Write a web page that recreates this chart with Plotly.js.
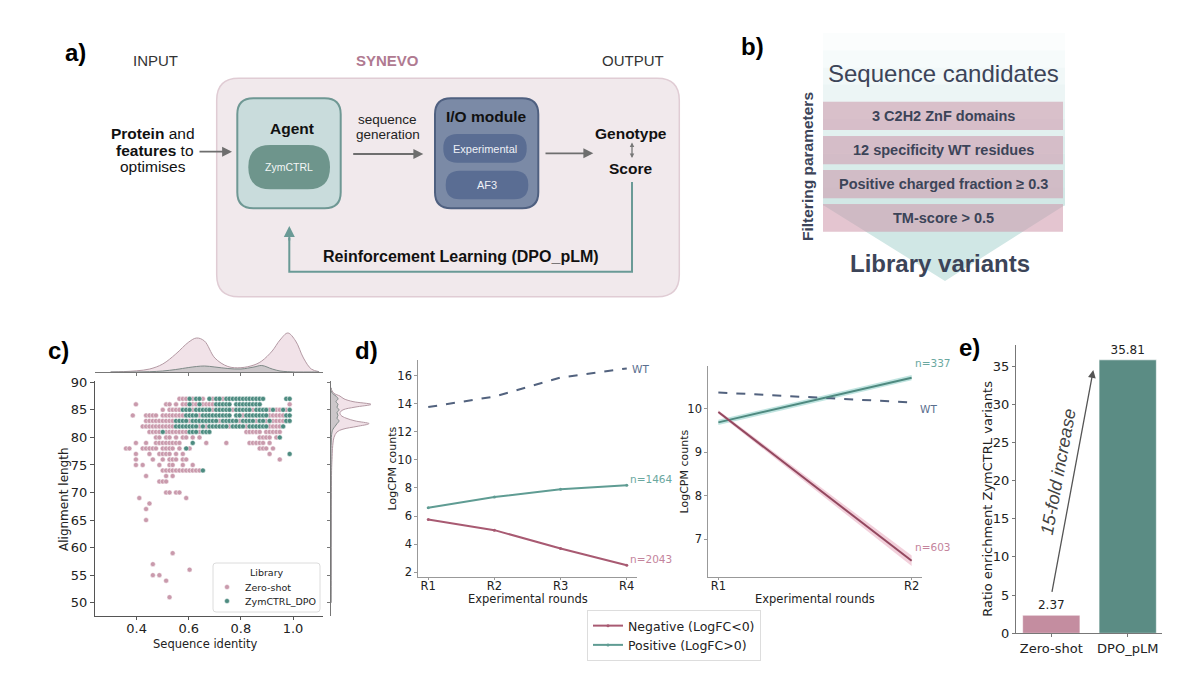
<!DOCTYPE html>
<html><head><meta charset="utf-8">
<script src="https://cdn.plot.ly/plotly-3.0.1.min.js"></script>
<style>html,body{margin:0;padding:0;background:#fff}#chart{width:1200px;height:677px}</style>
</head><body><div id="chart"></div>
<script>
// ---------------- DATA ----------------
// Panel c: scatter rows (alignment length -> list of sequence identities)
const zeroShotAlign = [87,86,85,84,83,82,81,80,79,78,77,76,75,74,73,72,70,69,68,67,65,59,57,56,55,54,51];
const zeroShotIdentity = [
  [0.564,0.577,0.590,0.615,0.654,0.692,0.731],
  [0.397,0.513,0.526,0.551,0.577,0.590,0.615,0.628,0.654,0.667,0.679,0.692,0.987],
  [0.500,0.526,0.538,0.551,0.564,0.615,0.692,0.769,0.846,0.910,0.936,0.949,0.974],
  [0.385,0.436,0.449,0.462,0.474,0.500,0.513,0.526,0.538,0.551,0.564,0.577,0.641,0.808,0.910,0.923,0.936,0.949,0.962],
  [0.436,0.449,0.462,0.474,0.487,0.500,0.513,0.526,0.538,0.603,0.718,0.795,0.859,0.897,0.923,0.936,0.949,0.962],
  [0.423,0.436,0.449,0.462,0.474,0.487,0.500,0.513,0.526,0.538,0.641,0.667,0.756,0.821,0.910,0.923,0.936,0.949],
  [0.449,0.462,0.474,0.487,0.513,0.526,0.538,0.551,0.564,0.577,0.590,0.641,0.821,0.833,0.846,0.859,0.872,0.897,0.910,0.923,0.936,0.949],
  [0.474,0.487,0.513,0.526,0.551,0.577,0.590,0.615,0.641,0.872,0.885,0.897,0.910,0.936],
  [0.397,0.436,0.474,0.487,0.500,0.513,0.526,0.538,0.551,0.564,0.667,0.744,0.833,0.846,0.859,0.872,0.885,0.910],
  [0.359,0.372,0.423,0.436,0.449,0.462,0.474,0.500,0.513,0.526,0.538,0.564,0.603,0.872,0.885,0.897,0.923],
  [0.397,0.449,0.487,0.500,0.513,0.526,0.551,0.577,0.910],
  [0.397,0.462,0.500,0.526,0.538,0.551,0.577,0.590,0.949],
  [0.397,0.423,0.487,0.526,0.538,0.577,0.615],
  [0.500,0.513,0.526,0.538,0.551,0.564,0.577,0.590,0.603,0.615,0.628,0.641],
  [0.436,0.513,0.538],
  [0.487,0.500,0.513],
  [0.513,0.526,0.551,0.564],
  [0.410,0.590],
  [0.449],
  [0.436],
  [0.436],
  [0.538],
  [0.462],
  [0.603],
  [0.462,0.487],
  [0.513],
  [0.526]
];
const dpoAlign = [87,86,85,84,83,82,81,80,79,78,77,74];
const dpoIdentity = [
  [0.603,0.628,0.641,0.679,0.705,0.718,0.744,0.756,0.769,0.782,0.795,0.808,0.821,0.833,0.846,0.859,0.872,0.885,0.974,0.987],
  [0.603,0.641,0.705,0.718,0.731,0.744,0.756,0.782,0.795,0.808,0.821,0.833,0.846,0.859,0.872],
  [0.577,0.590,0.603,0.628,0.641,0.654,0.667,0.679,0.705,0.718,0.731,0.744,0.756,0.782,0.795,0.808,0.821,0.833,0.859,0.872,0.885,0.897,0.923,0.962,0.987],
  [0.590,0.603,0.615,0.628,0.654,0.667,0.679,0.692,0.705,0.718,0.731,0.744,0.756,0.782,0.795,0.821,0.833,0.846,0.859,0.872,0.885,0.897,0.974,0.987],
  [0.551,0.564,0.577,0.590,0.615,0.628,0.641,0.654,0.667,0.679,0.692,0.705,0.731,0.744,0.756,0.769,0.782,0.808,0.821,0.833,0.846,0.872,0.885,0.910,0.974,0.987],
  [0.551,0.564,0.577,0.590,0.603,0.615,0.628,0.654,0.679,0.692,0.705,0.718,0.731,0.744,0.769,0.782,0.795,0.808,0.833,0.846,0.859,0.872,0.885,0.897,0.962],
  [0.500,0.603,0.615,0.628,0.654,0.667,0.679],
  [0.949],
  [0.615],
  [0.590],
  [0.987],
  [0.654]
];
const libraryNames = ['Zero-shot','ZymCTRL_DPO'];
// Panel c marginal densities
const kdeTopX        = [0.30,0.35,0.40,0.45,0.50,0.55,0.60,0.63,0.66,0.70,0.75,0.80,0.85,0.88,0.92,0.95,0.98,1.01,1.04,1.07,1.10];
const kdeTopZeroShot = [0,0.4,1.2,3,8,18,30,34,31,14,5.5,4.3,7,11,21,32,39,31,14,3,0.3];
const kdeTopDpo      = [0,0,0,0.3,1,2.5,4.5,5.5,6,5,3.5,3,5,6.5,3,1,0.3,0,0,0,0];
const kdeRightY        = [89,88.5,88,87.5,87,86.5,86,85.5,85,84.5,84,83.5,83,82.5,82,81.5,81,80,79,78,76,74,70,65,60,55,50];
const kdeRightZeroShot = [0,1,3,9,13,22,40,24,12,9,10,15,24,38,26,12,6,3,2,1.5,1,0.6,0.4,0.3,0.2,0.2,0];
const kdeRightDpo      = [0,0,1.5,5,7,5,7,6,8,6,7,6,8,6,4,2,1,0.4,0.2,0,0,0,0,0,0,0,0];
// Panel d
const roundsLeft  = ['R1','R2','R3','R4'];
const wtLeft      = [13.75,14.5,15.85,16.5];
const positiveLeft= [6.6,7.35,7.9,8.2];
const negativeLeft= [5.75,5.0,3.7,2.5];
const roundsRight   = ['R1','R2'];
const wtRight       = [10.38,10.15];
const positiveRight = [9.69,10.72];
const positiveRightCI = [0.06,0.06];
const negativeRight = [9.93,6.5];
const negativeRightCI = [0.04,0.12];
// Panel e
const enrichLabels = ['Zero-shot','DPO_pLM'];
const enrichValues = [2.37,35.81];

// ---------------- HELPERS ----------------
const W=1200,H=677;
const PX=v=>v/W, PY=v=>1-v/H;
const dX=(a,b)=>[PX(a),PX(b)], dY=(top,bot)=>[PY(bot),PY(top)];
const f=v=>v.toFixed(5);
function rr(x0,y0,x1,y1,r){
  const X=v=>f(PX(v)),Y=v=>f(PY(v));
  return `M${X(x0+r)},${Y(y0)} L${X(x1-r)},${Y(y0)} Q${X(x1)},${Y(y0)} ${X(x1)},${Y(y0+r)} L${X(x1)},${Y(y1-r)} Q${X(x1)},${Y(y1)} ${X(x1-r)},${Y(y1)} L${X(x0+r)},${Y(y1)} Q${X(x0)},${Y(y1)} ${X(x0)},${Y(y1-r)} L${X(x0)},${Y(y0+r)} Q${X(x0)},${Y(y0)} ${X(x0+r)},${Y(y0)} Z`;
}
function poly(pts){return 'M'+pts.map(p=>f(PX(p[0]))+','+f(PY(p[1]))).join(' L')+' Z';}
function pathPx(cmds){return cmds.map(c=>c[0]+f(PX(c[1]))+','+f(PY(c[2]))).join(' ');}
function flatten(rowsY, rowsX){const x=[],y=[];rowsY.forEach((yy,i)=>rowsX[i].forEach(xx=>{x.push(xx);y.push(yy);}));return {x,y};}

const SANS='Liberation Sans, Arial, sans-serif';
const DJ='DejaVu Sans, sans-serif';
const pinkDot='#c99aac', greenDot='#4d8b80';
const negCol='#a85a72', posCol='#5f9c93', wtCol='#52627e';

const zs=flatten(zeroShotAlign,zeroShotIdentity);
const dp=flatten(dpoAlign,dpoIdentity);

// ---------------- TRACES ----------------
const traces=[
 {type:'scatter',mode:'markers',x:zs.x,y:zs.y,name:libraryNames[0],xaxis:'x',yaxis:'y',showlegend:false,
  marker:{size:5,color:pinkDot,line:{width:0.5,color:'#ffffff'}}},
 {type:'scatter',mode:'markers',x:dp.x,y:dp.y,name:libraryNames[1],xaxis:'x',yaxis:'y',showlegend:false,
  marker:{size:5,color:greenDot,line:{width:0.5,color:'#ffffff'}}},
 {type:'scatter',mode:'lines',x:kdeTopX,y:kdeTopZeroShot,xaxis:'x2',yaxis:'y2',showlegend:false,
  line:{shape:'spline',color:'#b49aa4',width:1},fill:'tozeroy',fillcolor:'rgba(215,172,190,0.35)'},
 {type:'scatter',mode:'lines',x:kdeTopX,y:kdeTopDpo,xaxis:'x2',yaxis:'y2',showlegend:false,
  line:{shape:'spline',color:'#7f8a88',width:1},fill:'tozeroy',fillcolor:'rgba(120,135,132,0.3)'},
 {type:'scatter',mode:'lines',x:kdeRightZeroShot,y:kdeRightY,xaxis:'x3',yaxis:'y3',showlegend:false,
  line:{shape:'spline',color:'#b49aa4',width:1},fill:'tozerox',fillcolor:'rgba(215,172,190,0.35)'},
 {type:'scatter',mode:'lines',x:kdeRightDpo,y:kdeRightY,xaxis:'x3',yaxis:'y3',showlegend:false,
  line:{shape:'spline',color:'#7f8a88',width:1},fill:'tozerox',fillcolor:'rgba(120,135,132,0.3)'},
 // panel d left
 {type:'scatter',mode:'lines',x:roundsLeft,y:wtLeft,xaxis:'x4',yaxis:'y4',showlegend:false,
  line:{color:wtCol,width:2,dash:'dash'}},
 {type:'scatter',mode:'lines+markers',x:roundsLeft,y:negativeLeft,xaxis:'x4',yaxis:'y4',name:'Negative (LogFC<0)',legend:'legend2',legendrank:1,
  line:{color:negCol,width:2},marker:{size:3,color:negCol}},
 {type:'scatter',mode:'lines+markers',x:roundsLeft,y:positiveLeft,xaxis:'x4',yaxis:'y4',name:'Positive (LogFC>0)',legend:'legend2',legendrank:2,
  line:{color:posCol,width:2},marker:{size:3,color:posCol}},
 // panel d right: confidence bands
 {type:'scatter',mode:'lines',x:roundsRight,y:positiveRight.map((v,i)=>v-positiveRightCI[i]),xaxis:'x5',yaxis:'y5',showlegend:false,line:{width:0,color:'rgba(0,0,0,0)'}},
 {type:'scatter',mode:'lines',x:roundsRight,y:positiveRight.map((v,i)=>v+positiveRightCI[i]),xaxis:'x5',yaxis:'y5',showlegend:false,line:{width:0,color:'rgba(0,0,0,0)'},fill:'tonexty',fillcolor:'rgba(140,205,198,0.55)'},
 {type:'scatter',mode:'lines',x:roundsRight,y:negativeRight.map((v,i)=>v-negativeRightCI[i]),xaxis:'x5',yaxis:'y5',showlegend:false,line:{width:0,color:'rgba(0,0,0,0)'}},
 {type:'scatter',mode:'lines',x:roundsRight,y:negativeRight.map((v,i)=>v+negativeRightCI[i]),xaxis:'x5',yaxis:'y5',showlegend:false,line:{width:0,color:'rgba(0,0,0,0)'},fill:'tonexty',fillcolor:'rgba(232,170,190,0.55)'},
 {type:'scatter',mode:'lines',x:roundsRight,y:wtRight,xaxis:'x5',yaxis:'y5',showlegend:false,line:{color:wtCol,width:2,dash:'dash'}},
 {type:'scatter',mode:'lines',x:roundsRight,y:positiveRight,xaxis:'x5',yaxis:'y5',showlegend:false,line:{color:'#4f8a80',width:2}},
 {type:'scatter',mode:'lines',x:roundsRight,y:negativeRight,xaxis:'x5',yaxis:'y5',showlegend:false,line:{color:'#93485f',width:2}},
 // panel e
 {type:'bar',x:enrichLabels,y:enrichValues,xaxis:'x6',yaxis:'y6',showlegend:false,width:0.75,
  marker:{color:['#c48da0','#5b8c84'],line:{color:'rgba(255,255,255,0.6)',width:1}},
  texttemplate:'%{y:.2f}',textposition:'outside',cliponaxis:false,
  textfont:{family:DJ,size:12,color:'#222'}}
];

// ---------------- AXES ----------------
const tickF={family:DJ,size:13,color:'#222'};
const base={showgrid:false,zeroline:false,showline:true,linecolor:'#555',linewidth:1,ticks:'outside',ticklen:4,tickcolor:'#555',tickfont:tickF,fixedrange:true};
const dTick={family:DJ,size:11.5,color:'#222'};
const layout={
 width:W,height:H,margin:{l:0,r:0,t:0,b:0},paper_bgcolor:'#ffffff',plot_bgcolor:'rgba(0,0,0,0)',
 showlegend:true,
 xaxis:Object.assign({},base,{domain:dX(95,323),range:[0.24,1.115],anchor:'y',tickvals:[0.4,0.6,0.8,1.0],ticktext:['0.4','0.6','0.8','1.0'],ticklen:3,ticklabelstandoff:-3}),
 yaxis:Object.assign({},base,{domain:dY(381,616),range:[47.59,90.24],anchor:'x',tickvals:[50,55,60,65,70,75,80,85,90]}),
 xaxis2:Object.assign({},base,{domain:dX(95,323),range:[0.24,1.115],anchor:'y2',tickvals:[0.4,0.6,0.8,1.0],showticklabels:false,ticklen:3,linecolor:'#777',tickcolor:'#777'}),
 yaxis2:{domain:dY(330,372),range:[0,42],anchor:'x2',visible:false,fixedrange:true},
 xaxis3:{domain:dX(331,375),range:[0,44],anchor:'y3',visible:false,fixedrange:true},
 yaxis3:Object.assign({},base,{domain:dY(381,616),range:[47.59,90.24],anchor:'x3',tickvals:[50,55,60,65,70,75,80,85,90],showticklabels:false,ticklen:3,linecolor:'#777',tickcolor:'#777'}),
 xaxis4:Object.assign({},base,{domain:dX(418.3,636.7),type:'category',categoryarray:roundsLeft,range:[-0.15,3.15],anchor:'y4',linecolor:'#999',tickcolor:'#999',ticklen:2,ticklabelstandoff:-4,tickfont:dTick}),
 yaxis4:Object.assign({},base,{domain:dY(360,576.7),range:[1.69,17.1],anchor:'x4',tickvals:[2,4,6,8,10,12,14,16],linecolor:'#999',tickcolor:'#999',ticklen:3,tickfont:dTick}),
 xaxis5:Object.assign({},base,{domain:dX(708.3,921.7),type:'category',categoryarray:roundsRight,range:[-0.052,1.052],anchor:'y5',linecolor:'#999',tickcolor:'#999',ticklen:2,ticklabelstandoff:-4,tickfont:dTick}),
 yaxis5:Object.assign({},base,{domain:dY(366,577.3),range:[6.12,10.99],anchor:'x5',tickvals:[7,8,9,10],linecolor:'#999',tickcolor:'#999',ticklen:3,tickfont:dTick}),
 xaxis6:Object.assign({},base,{domain:dX(1016,1161.7),type:'category',categoryarray:enrichLabels,range:[-0.462,1.445],anchor:'y6',linecolor:'#777',tickcolor:'#777',ticklen:3}),
 yaxis6:Object.assign({},base,{domain:dY(345,633.3),range:[0,37.75],anchor:'x6',tickvals:[0,5,10,15,20,25,30,35],linecolor:'#777',tickcolor:'#777',ticklen:3}),
 legend2:{x:PX(587),y:PY(610),xanchor:'left',yanchor:'top',bgcolor:'rgba(255,255,255,0.9)',bordercolor:'#dddddd',borderwidth:1,
   font:{family:DJ,size:12.5,color:'#222'},itemwidth:30,tracegroupgap:0,traceorder:'normal'},
 shapes:[],annotations:[]
};

// ---------------- DIAGRAM SHAPES ----------------
const S=layout.shapes;
const sh=(path,fill,lc,lw)=>S.push({type:'path',xref:'paper',yref:'paper',path:path,fillcolor:fill,line:{color:lc,width:lw},layer:'below'});
// panel a
sh(rr(216.7,78.3,679.3,296.7,22),'#f1e9ec','#e0ccd4',1.5);
sh(rr(237.3,98.3,340.7,208.3,16),'#c9dcdc','#6f9894',2);
sh(rr(248.3,145,330,189.3,22),'#6e958c','rgba(0,0,0,0)',0);
sh(rr(435,98.3,538.3,208.3,16),'#7b8aa6','#4f6080',2);
sh(rr(443.3,134,526.7,162.7,14),'#5a6d93','rgba(0,0,0,0)',0);
sh(rr(445.7,170.7,528.3,199.3,14),'#5a6d93','rgba(0,0,0,0)',0);
S.push({type:'path',xref:'paper',yref:'paper',path:pathPx([['M',632,182],['L',632,271.7],['L',289.3,271.7],['L',289.3,238]]),line:{color:'#6a9a96',width:2}});
// panel b funnel (gradient strips + tip)
const stripCols=['#fbfdfd','#f6fbfb','#f1f8f8','#ecf5f5','#e7f3f2','#e2f0ef','#ddeeed','#d9ecea','#d5eae8','#d2e8e6'];
stripCols.forEach((c,i)=>{const y0=33+i*17.2;S.push({type:'rect',xref:'paper',yref:'paper',x0:PX(823),x1:PX(1065),y0:PY(y0+17.6),y1:PY(y0),fillcolor:c,line:{width:0},layer:'below'});});
sh(poly([[823,205],[1065,205],[945,281]]),'#d0e7e5','rgba(0,0,0,0)',0);
[[101.7,130],[136,164.3],[170,198.3],[204,231.7]].forEach(b=>{
  S.push({type:'rect',xref:'paper',yref:'paper',x0:PX(823),x1:PX(1063),y0:PY(b[1]),y1:PY(b[0]),fillcolor:'rgba(205,150,170,0.55)',line:{width:0},layer:'below'});
});
// panel c legend box
sh(rr(213,563,320,612,3),'rgba(255,255,255,0.92)','#dcdcdc',1);
[[227,587,pinkDot],[227,601,greenDot]].forEach(p=>S.push({type:'circle',xref:'paper',yref:'paper',x0:PX(p[0]-2.5),x1:PX(p[0]+2.5),y0:PY(p[1]+2.5),y1:PY(p[1]-2.5),fillcolor:p[2],line:{color:'#ffffff',width:0.5}}));

// ---------------- ANNOTATIONS ----------------
const A=layout.annotations;
function txt(t,x,y,o){A.push(Object.assign({text:t,x:PX(x),y:PY(y),xref:'paper',yref:'paper',showarrow:false,xanchor:'center',yanchor:'middle',
  font:{family:SANS,size:14,color:'#222'}},o||{}));}
function arrow(x,y,ax,ay,o){A.push(Object.assign({text:'',x:PX(x),y:PY(y),xref:'paper',yref:'paper',showarrow:true,ax:ax,ay:ay,axref:'pixel',ayref:'pixel',
  arrowhead:2,arrowsize:1.1,arrowwidth:1.8,arrowcolor:'#6e6e6e'},o||{}));}
// panel labels
['a)','b)','c)','d)','e)'].forEach((l,i)=>{const p=[[75,52],[752,47],[58,350],[366,350],[969,347]][i];txt('<b>'+l+'</b>',p[0],p[1],{font:{family:SANS,size:24,color:'#000'}});});
// panel a texts
txt('INPUT',155,61,{font:{family:SANS,size:15,color:'#333'}});
txt('<b>SYNEVO</b>',387,61,{font:{family:SANS,size:15,color:'#b07a91'}});
txt('OUTPUT',633,61,{font:{family:SANS,size:15,color:'#333'}});
txt('<b>Protein</b> and',152.5,133.5,{font:{family:SANS,size:15.5,color:'#111'}});
txt('<b>features</b> to',155,150.5,{font:{family:SANS,size:15.5,color:'#111'}});
txt('optimises',152.5,167,{font:{family:SANS,size:15.5,color:'#111'}});
txt('<b>Agent</b>',291.7,128.3,{font:{family:SANS,size:15.5,color:'#111'}});
txt('ZymCTRL',289.2,167,{font:{family:SANS,size:10.5,color:'#f4f7f6'}});
txt('sequence',388,120,{font:{family:SANS,size:13.5,color:'#222'}});
txt('generation',388,135,{font:{family:SANS,size:13.5,color:'#222'}});
txt('<b>I/O module</b>',486,116,{font:{family:SANS,size:15.5,color:'#111'}});
txt('Experimental',485,148.5,{font:{family:SANS,size:11,color:'#eef0f6'}});
txt('AF3',487,185,{font:{family:SANS,size:11,color:'#eef0f6'}});
txt('<b>Genotype</b>',631,133.3,{font:{family:SANS,size:15.5,color:'#111'}});
txt('<b>Score</b>',630,168.3,{font:{family:SANS,size:15.5,color:'#111'}});
txt('<b>Reinforcement Learning (DPO_pLM)</b>',461,256.7,{font:{family:SANS,size:16,color:'#111'}});
arrow(232,151.7,-34,0);
arrow(423.3,154,-71.6,0);
arrow(593.3,153.3,-49.3,0);
arrow(632,158,0,-17,{arrowside:'end+start',arrowsize:0.7,arrowwidth:1.3,arrowcolor:'#777'});
arrow(289.3,226,0,16,{arrowcolor:'#6a9a96',arrowwidth:2});
// panel b texts
const bCol='#3c4458';
txt('Sequence candidates',943,73,{font:{family:SANS,size:24,color:bCol}});
txt('<b>3 C2H2 ZnF domains</b>',943,116,{font:{family:SANS,size:14.5,color:bCol}});
txt('<b>12 specificity WT residues</b>',943,150,{font:{family:SANS,size:14.5,color:bCol}});
txt('<b>Positive charged fraction ≥ 0.3</b>',943,184,{font:{family:SANS,size:14.5,color:bCol}});
txt('<b>TM-score &gt; 0.5</b>',943,218,{font:{family:SANS,size:14.5,color:bCol}});
txt('<b>Library variants</b>',940,263,{font:{family:SANS,size:24,color:bCol}});
txt('<b>Filtering parameters</b>',808,167,{textangle:-90,font:{family:SANS,size:15.5,color:bCol}});
// panel c axis titles & legend texts
txt('Alignment length',64,499,{textangle:-90,font:{family:DJ,size:12,color:'#222'}});
txt('Sequence identity',205,644,{font:{family:DJ,size:11.5,color:'#222'}});
txt('Library',266.5,572.5,{font:{family:DJ,size:9.5,color:'#222'}});
txt(libraryNames[0],243,587,{xanchor:'left',font:{family:DJ,size:9.5,color:'#222'}});
txt(libraryNames[1],243,601,{xanchor:'left',font:{family:DJ,size:9.5,color:'#222'}});
// panel d titles & labels
txt('LogCPM counts',391.5,469,{textangle:-90,font:{family:DJ,size:11,color:'#222'}});
txt('Experimental rounds',527.5,599,{font:{family:DJ,size:11.5,color:'#222'}});
txt('LogCPM counts',684,471.5,{textangle:-90,font:{family:DJ,size:11,color:'#222'}});
txt('Experimental rounds',814.5,599,{font:{family:DJ,size:11.5,color:'#222'}});
txt('WT',630,369,{xanchor:'left',font:{family:DJ,size:10.5,color:'#5a6e8e'}});
txt('n=1464',628,479,{xanchor:'left',font:{family:DJ,size:10.5,color:'#6aa8a0'}});
txt('n=2043',628,559,{xanchor:'left',font:{family:DJ,size:10.5,color:'#c4849c'}});
txt('n=337',912.5,363.3,{xanchor:'left',font:{family:DJ,size:10.5,color:'#6aa8a0'}});
txt('WT',918,409.3,{xanchor:'left',font:{family:DJ,size:10.5,color:'#5a6e8e'}});
txt('n=603',912.5,546.7,{xanchor:'left',font:{family:DJ,size:10.5,color:'#c4849c'}});
// panel e
txt('Ratio enrichment ZymCTRL variants',986.7,499,{textangle:-90,font:{family:DJ,size:13,color:'#222'}});
arrow(1093.3,370,-41.6,223.3,{arrowcolor:'#555',arrowwidth:1.3,arrowsize:1.2});
txt('<i>15-fold increase</i>',1058,471.7,{textangle:-79.5,font:{family:SANS,size:18,color:'#444'}});

Plotly.newPlot('chart',traces,layout,{displayModeBar:false,staticPlot:true});
</script></body></html>
